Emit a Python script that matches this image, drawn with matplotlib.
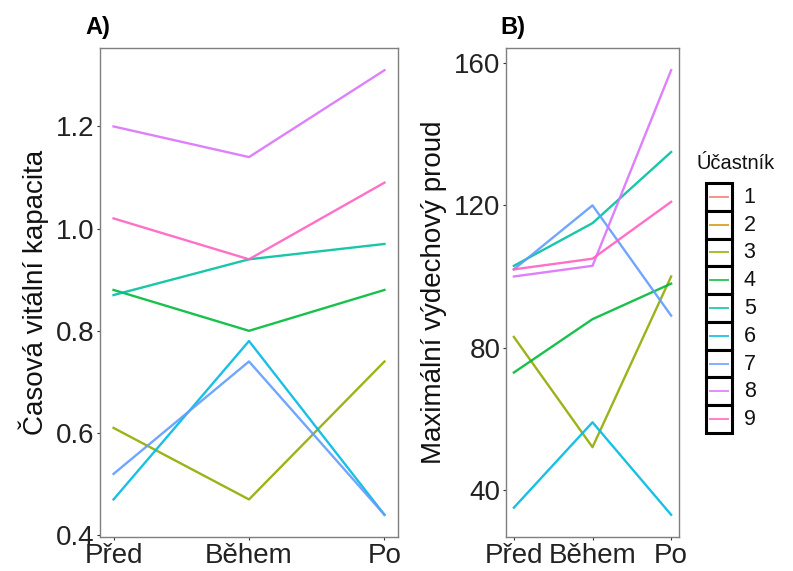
import matplotlib.pyplot as plt
import matplotlib.patches as mpatches
import numpy as np

plt.rcParams['font.family'] = ['Liberation Sans', 'DejaVu Sans']

times = ["Před", "Během", "Po"]
participants = ["1", "2", "3", "4", "5", "6", "7", "8", "9"]
colors = ["#F8766D", "#D39200", "#93AA00", "#00BA38", "#00C19F",
          "#00B9E3", "#619CFF", "#DB72FB", "#FF61C3"]

# A) Casova vitalni kapacita, one row per participant (1, 2 missing)
fvc = [
    [np.nan, np.nan, np.nan],
    [np.nan, np.nan, np.nan],
    [0.61, 0.47, 0.74],
    [0.88, 0.80, 0.88],
    [0.87, 0.94, 0.97],
    [0.47, 0.78, 0.44],
    [0.52, 0.74, 0.44],
    [1.20, 1.14, 1.31],
    [1.02, 0.94, 1.09],
]

# B) Maximalni vydechovy proud
pef = [
    [np.nan, np.nan, np.nan],
    [np.nan, np.nan, np.nan],
    [83, 52, 100],
    [73, 88, 98],
    [103, 115, 135],
    [35, 59, 33],
    [102, 120, 89],
    [100, 103, 158],
    [102, 105, 121],
]

W, H = 793, 571
fig = plt.figure(figsize=(W / 100, H / 100), dpi=100)


def px_axes(l, t, r, b):
    return fig.add_axes([l / W, 1 - b / H, (r - l) / W, (b - t) / H])


def style(ax, yticks, ylabel):
    x = np.arange(1, 4)
    ax.set_xlim(0.9, 3.1)
    ax.set_xticks(x)
    ax.set_xticklabels(times)
    ax.set_yticks(yticks)
    for s in ax.spines.values():
        s.set_color("#7f7f7f")
        s.set_linewidth(1.0)
    ax.tick_params(direction="out", length=2.5, width=0.8, color="#333333",
                   labelsize=20, labelcolor="#222222", pad=1.5)
    ax.set_ylabel(ylabel, fontsize=20, color="#111111", labelpad=5)


axA = px_axes(100, 48, 398, 537)
x = np.arange(1, 4)
for vals, c in zip(fvc, colors):
    axA.plot(x, vals, color=c, lw=1.7, alpha=0.9)
axA.set_ylim(0.3965, 1.3535)
style(axA, [0.4, 0.6, 0.8, 1.0, 1.2], "Časová vitální kapacita")
axA.set_yticklabels(["0.4", "0.6", "0.8", "1.0", "1.2"])

axB = px_axes(506, 48, 679, 537)
for vals, c in zip(pef, colors):
    axB.plot(x, vals, color=c, lw=1.7, alpha=0.9)
axB.set_ylim(26.75, 164.25)
style(axB, [40, 80, 120, 160], "Maximální výdechový proud")

fig.text(85 / W, 1 - 34 / H, "A)", fontsize=17, fontweight="bold")
fig.text(500 / W, 1 - 34 / H, "B)", fontsize=17, fontweight="bold")

# legend
leg = px_axes(706, 183, 732, 433)
leg.set_xlim(0, 1)
leg.set_ylim(len(participants), 0)
leg.axis("off")
for i, (p, c) in enumerate(zip(participants, colors)):
    leg.add_patch(mpatches.Rectangle((0, i), 1, 1, facecolor="white",
                                     edgecolor="black", lw=2.2, clip_on=False))
    leg.plot([0.15, 0.85], [i + 0.5, i + 0.5], color=c, lw=1.4, alpha=0.8,
             clip_on=False)
    leg.text(1.45, i + 0.52, p, fontsize=15.5, va="center", ha="left",
             color="#111111")
fig.text(697 / W, 1 - 163 / H, "Účastník", fontsize=14.5, va="center",
         color="#111111")

fig.savefig("out.png", dpi=100)
